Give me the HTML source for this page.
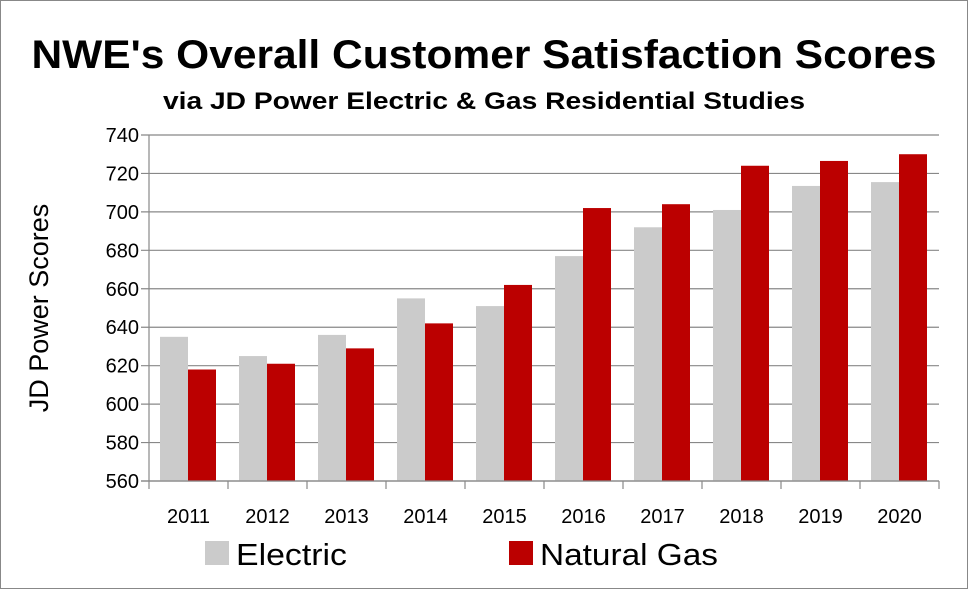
<!DOCTYPE html>
<html><head><meta charset="utf-8"><style>
html,body{margin:0;padding:0;background:#fff;}
svg{display:block;font-family:"Liberation Sans",sans-serif;}
</style></head><body>
<svg id="chart" width="969" height="590" viewBox="0 0 969 590">
<rect x="0.5" y="0.5" width="967" height="588" fill="#fff" stroke="#888"/>
<text x="484" y="68" text-anchor="middle" font-size="40" font-weight="bold" textLength="905" lengthAdjust="spacingAndGlyphs">NWE's Overall Customer Satisfaction Scores</text>
<text x="484" y="109" text-anchor="middle" font-size="24" font-weight="bold" textLength="642" lengthAdjust="spacingAndGlyphs">via JD Power Electric &amp; Gas Residential Studies</text>
<text transform="translate(48,308) rotate(-90)" text-anchor="middle" font-size="27">JD Power Scores</text>
<g id="grid"></g><g id="bars"></g><g id="axes"></g>
<rect x="205" y="541" width="24" height="24" fill="#cbcbcb"/>
<text x="236" y="565" font-size="31" textLength="111" lengthAdjust="spacingAndGlyphs">Electric</text>
<rect x="509" y="541" width="24" height="24" fill="#bb0000"/>
<text x="540" y="565" font-size="31" textLength="178" lengthAdjust="spacingAndGlyphs">Natural Gas</text>
</svg>
<script>
const categories=["2011","2012","2013","2014","2015","2016","2017","2018","2019","2020"];
const electric=[635,625,636,655,651,677,692,701,713.5,715.5];
const gas=[618,621,629,642,662,702,704,724,726.5,730];
const yTicks=[560,580,600,620,640,660,680,700,720,740];
const NS="http://www.w3.org/2000/svg";
const X0=149,X1=939,Y0=481,Y1=135,YMIN=560,YMAX=740;
const y=v=>Y0-(v-YMIN)/(YMAX-YMIN)*(Y0-Y1);
const band=(X1-X0)/categories.length;
const x=i=>X0+i*band;
function mk(tag,attrs,parent){const e=document.createElementNS(NS,tag);for(const k in attrs)e.setAttribute(k,attrs[k]);parent.appendChild(e);return e;}
const grid=document.getElementById('grid'),bars=document.getElementById('bars'),axes=document.getElementById('axes');
yTicks.forEach(t=>{
  const l=mk('line',{x1:X0-8,x2:X1,y1:y(t),y2:y(t),stroke:'#888','stroke-width':1.2},grid);
  
  
  const tx=mk('text',{x:X0-10,y:y(t)+7,'text-anchor':'end','font-size':20},axes);
  tx.textContent=t;
  
  
});
const bw=28;
categories.forEach((c,i)=>{
  const cx=x(i)+band/2;
  const e=mk('rect',{x:cx-bw-0.5,y:y(electric[i]),width:bw,height:Y0-y(electric[i]),fill:'#cbcbcb'},bars);
  
  
  const g=mk('rect',{x:cx-0.5,y:y(gas[i]),width:bw,height:Y0-y(gas[i]),fill:'#bb0000'},bars);
  
  
  const tx=mk('text',{x:cx,y:523,'text-anchor':'middle','font-size':20},axes);
  tx.textContent=c;
  
  
});
for(let i=0;i<=categories.length;i++){
  const t=mk('line',{x1:x(i),x2:x(i),y1:Y0,y2:Y0+8,stroke:'#888','stroke-width':1.2},axes);
  
  
}
const ya=mk('line',{x1:X0,x2:X0,y1:Y1,y2:Y0,stroke:'#888','stroke-width':1.2},axes);


const xa=mk('line',{x1:X0-8,x2:X1,y1:Y0,y2:Y0,stroke:'#888','stroke-width':1.2},axes);


</script>
</body></html>
